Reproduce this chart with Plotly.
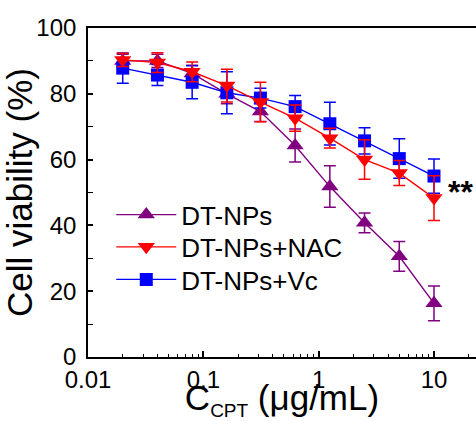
import plotly.graph_objects as go
import math

conc = [0.02, 0.04, 0.08, 0.16, 0.3125, 0.625, 1.25, 2.5, 5, 10]

dt_nps = [90.0, 90.0, 86.2, 80.0, 74.6, 64.3, 51.8, 40.8, 30.6, 16.3]
dt_nps_err = [2.0, 2.0, 2.5, 3.0, 3.0, 5.0, 6.3, 3.0, 4.5, 5.3]

dt_nac = [90.3, 89.5, 86.7, 82.5, 77.5, 72.6, 66.5, 60.0, 55.9, 48.3]
dt_nac_err = [2.0, 3.0, 3.0, 5.0, 6.0, 4.0, 3.0, 6.0, 3.8, 6.8]

dt_vc = [87.8, 85.7, 83.5, 80.3, 78.7, 76.1, 70.9, 65.7, 60.3, 55.0]
dt_vc_err = [4.6, 3.2, 5.0, 6.4, 3.0, 3.4, 6.5, 4.0, 6.0, 5.2]

FONT = "Liberation Sans, Arial, sans-serif"

fig = go.Figure()

def add(name, y, err, color, symbol, size, legend):
    fig.add_trace(go.Scatter(
        x=conc, y=y, name=name, mode="lines+markers",
        line=dict(color=color, width=1.4),
        marker=dict(symbol=symbol, size=size, color=color),
        error_y=dict(type="data", array=err, visible=True, color=color,
                     thickness=1.5, width=6),
        legend=legend,
    ))

add("DT-NPs", dt_nps, dt_nps_err, "#800080", "triangle-up", 15, "legend")
add("DT-NPs+Vc", dt_vc, dt_vc_err, "#0000ff", "square", 13, "legend3")
add("DT-NPs+NAC", dt_nac, dt_nac_err, "#ff0000", "triangle-down", 15, "legend2")

fig.add_annotation(x=math.log10(10), y=50.2, xref="x", yref="y",
                   text="<b>**</b>", showarrow=False, xanchor="left",
                   yanchor="middle", xshift=12,
                   font=dict(size=32, color="black", family=FONT))

def leg(y):
    return dict(x=0.06, y=y, xanchor="left", yanchor="top",
                bgcolor="rgba(0,0,0,0)", font=dict(size=26),
                itemwidth=60)

fig.update_layout(
    width=476, height=421,
    margin=dict(l=88, r=0, t=28, b=64),
    paper_bgcolor="white", plot_bgcolor="white",
    font=dict(family=FONT, color="black", size=24),
    legend=leg(0.504), legend2=leg(0.406), legend3=leg(0.307),
    showlegend=True,
)
fig.update_xaxes(
    type="log", range=[-2, -2 + 388 / 115.33], automargin=False,
    tickvals=[0.01, 0.1, 1, 10], ticktext=["0.01", "0.1", "1", "10"],
    ticks="inside", ticklen=6, tickwidth=1.5, tickcolor="black",
    minor=dict(ticks="inside", ticklen=3.5, tickwidth=1.2, tickcolor="black",
               tickvals=[k * 10 ** d for d in (-2, -1, 0, 1) for k in range(2, 10)]),
    showline=True, linecolor="black", linewidth=1.6, mirror=True,
    showgrid=False, zeroline=False,
    tickfont=dict(size=24),
    title=dict(text="C<sub><span style='font-size:19px'>CPT</span></sub> (μg/mL)",
               font=dict(size=35), standoff=0),
)
fig.update_yaxes(
    range=[0, 100], dtick=20, automargin=False,
    ticks="inside", ticklen=5, tickwidth=1.5, tickcolor="black",
    minor=dict(ticks="inside", ticklen=5, tickwidth=1.2, tickcolor="black", dtick=10),
    showline=True, linecolor="black", linewidth=1.6,
    showgrid=False, zeroline=False,
    tickfont=dict(size=24), ticklabelstandoff=5,
    title=dict(text="Cell viability (%)", font=dict(size=35), standoff=2),
)

fig.write_html(
    "out.html",
    config={"displayModeBar": False},
    post_script="document.body.style.margin='0';document.body.style.overflow='hidden';",
)
